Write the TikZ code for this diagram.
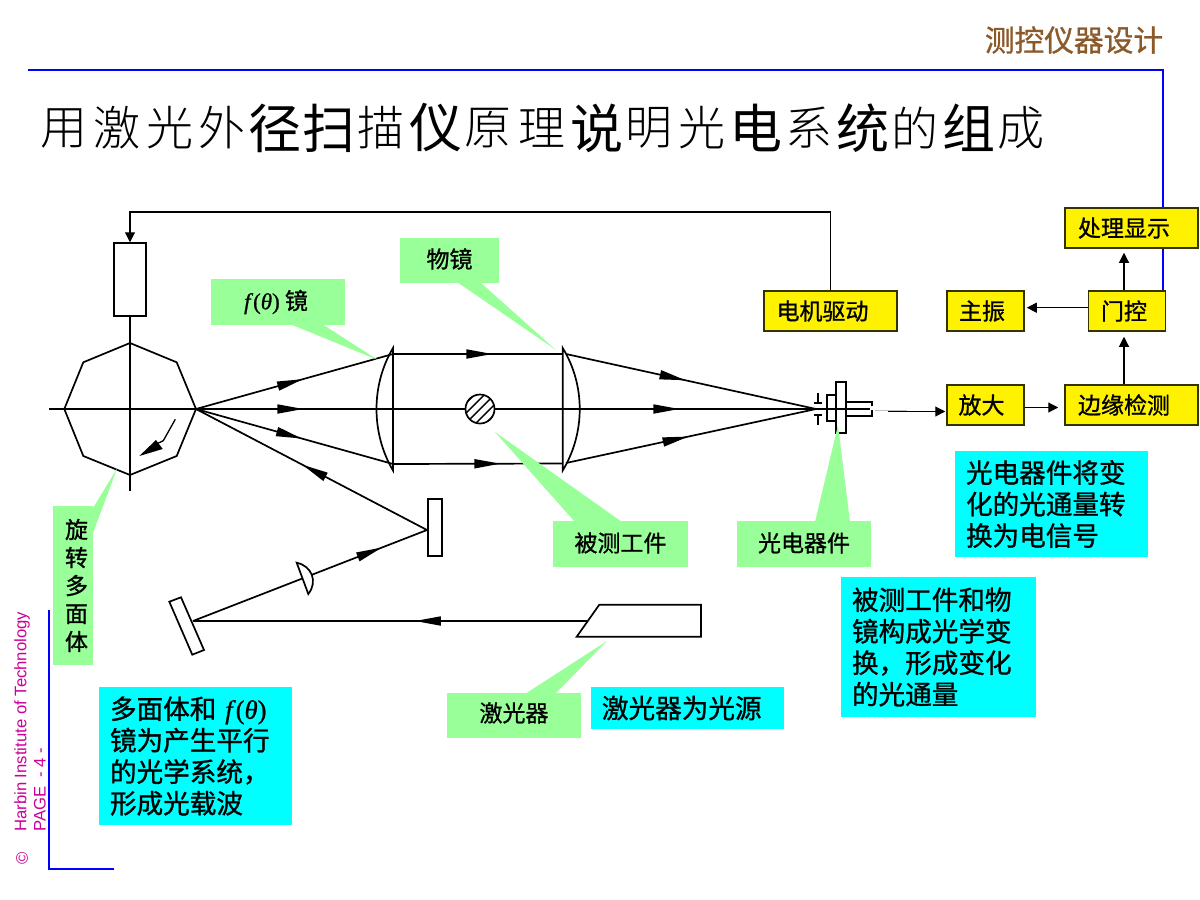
\documentclass[tikz,border=0pt]{standalone}
\usepackage{fontspec}
\setmainfont{Liberation Serif}
\newfontfamily\cjk{Noto Sans CJK SC}
\newfontfamily\cjkb[FakeBold=1]{Noto Sans CJK SC}
\newfontfamily\cjklight{Noto Sans CJK SC Light}
\newfontfamily\lsans{Liberation Sans}
\newfontfamily\ltimes[FakeBold=0.8]{Liberation Serif}
\usetikzlibrary{arrows.meta,decorations.markings}
\definecolor{labelgreen}{HTML}{99FF99}
\definecolor{boxedge}{HTML}{333300}
\definecolor{framepink}{HTML}{CC0099}
\definecolor{brownhead}{HTML}{8B5A2B}
\definecolor{notecyan}{HTML}{00FFFF}
\newcommand{\ftheta}{{\ltimes\itshape f\/\upshape(\itshape θ\/\upshape)}}
\newcommand{\lft}[2]{\raisebox{-3pt}{#2\hspace{#1}}}
\tikzset{
  x=1pt,y=-1pt,
  ln/.style={line width=1.7pt,black,line join=miter},
  conn/.style={line width=1.1pt,black,-{Triangle[length=10pt,width=10pt]}},
  midtip/.style={postaction={decorate,decoration={markings,mark=at position #1 with {\arrow{Triangle[length=26pt,width=9pt]}}}}},
  yellowbox/.style={draw=boxedge,line width=1.5pt,fill=yellow,inner sep=0pt,font=\cjkb\fontsize{23}{28}\selectfont},
  greenbox/.style={fill=labelgreen,inner sep=0pt,font=\cjkb\fontsize{23}{28}\selectfont},
  cyanbox/.style={fill=notecyan,inner xsep=11pt,inner ysep=0pt,align=left,font=\cjkb\fontsize{26.6}{31.5}\selectfont},
  greentail/.style={fill=labelgreen,draw=none},
  titlechar/.style={inner sep=0pt,font=\cjklight\fontsize{47}{50}\selectfont},
  titlebig/.style={inner sep=0pt,font=\cjk\fontsize{53}{55}\selectfont},
  framenote/.style={rotate=90,anchor=west,inner sep=0pt,text=framepink,font=\lsans\fontsize{16.7}{18}\selectfont},
  blueframe/.style={line width=2.3pt,blue},
}
\begin{document}
\begin{tikzpicture}
\useasboundingbox (0,0) rectangle (1200,900);
% frame
\coordinate (ftl) at (28,70); \coordinate (ftr) at (1163,70); \coordinate (fbr) at (1163,291);
\coordinate (fl1) at (49,610); \coordinate (fl2) at (49,869); \coordinate (fl3) at (114,869);
\draw[blueframe] (ftl) -- (ftr) -- (fbr);
\draw[blueframe] (fl1) -- (fl2) -- (fl3);
\node[inner sep=0pt,text=brownhead,font=\cjkb\fontsize{29.7}{32}\selectfont] (head) at (1074,40) {测控仪器设计};
% footer
\node[framenote] (foot1) at (22,832) {Harbin Institute of Technology};
\node[framenote] (foot2) at (40,832) {PAGE\ \ - 4 -};
\node[framenote] (foot3) at (22,865) {©};
% title
\node[titlechar] (t1) at (64,128) {用};
\node[titlechar] (t2) at (117,128) {激};
\node[titlechar] (t3) at (170,128) {光};
\node[titlechar] (t4) at (222,128) {外};
\node[titlebig] (t5) at (275,128) {径};
\node[titlebig] (t6) at (329,128) {扫};
\node[titlechar] (t7) at (381,128) {描};
\node[titlebig] (t8) at (436,128) {仪};
\node[titlechar] (t9) at (488,128) {原};
\node[titlechar] (t10) at (542,128) {理};
\node[titlebig] (t11) at (597,128) {说};
\node[titlechar] (t12) at (649,128) {明};
\node[titlechar] (t13) at (702,128) {光};
\node[titlebig] (t14) at (756,128) {电};
\node[titlechar] (t15) at (809,128) {系};
\node[titlebig] (t16) at (863,128) {统};
\node[titlechar] (t17) at (915,128) {的};
\node[titlebig] (t18) at (969,128) {组};
\node[titlechar] (t19) at (1021,128) {成};
% scanning polygon
\coordinate (fan) at (196,409);
\draw[ln] (130,343) -- (176.7,362.3) -- (fan) -- (176.7,456) -- (130,475) -- (83.3,456) -- (64.3,409) -- (83.3,362.3) -- cycle;
\node[draw,line width=1.5pt,fill=white,minimum width=32pt,minimum height=73pt,inner sep=0pt] (motor) at (130,279.5) {};
\coordinate (axisbottom) at (130,491);
\coordinate (axisleft) at (49,409);
\draw[ln] (motor.south) -- (axisbottom);
% rotation arrow
\coordinate (rot1) at (175.3,419.3); \coordinate (rot2) at (163.3,440.7); \coordinate (rot3) at (139.3,456);
\draw[line width=1.3pt] (rot1) -- (rot2) -- (150,447);
\fill (rot3) -- (156,440) -- (162.7,449) -- cycle;
% part
\node[circle,draw,line width=1.7pt,minimum size=29pt,inner sep=0pt] (part) at (480,409) {};
\begin{scope}
\clip (480,409) circle (14.5);
\foreach \d in {-30,-20,-10,0,10,20,30}
  \draw[line width=1.4pt] (480+\d-20,429) -- (480+\d+20,389);
\end{scope}
% coordinates of optics
\coordinate (ltop) at (393,354); \coordinate (lbot) at (393,464);
\coordinate (rtop) at (566,354); \coordinate (rbot) at (566,463);
\coordinate (focus) at (816,409);
\coordinate (mir) at (427,530);
\coordinate (tm) at (193,621);
\coordinate (las) at (587,621);
\draw[ln,midtip=0.612] (axisleft) -- (part.west);
\draw[ln,midtip=0.574] (part.east) -- (focus);
\draw[ln,midtip=0.543] (fan) -- (ltop);
\draw[ln,midtip=0.538] (fan) -- (lbot);
\draw[ln,midtip=0.586] (ltop) -- (562.7,354);
\draw[ln,midtip=0.633] (lbot) -- (562.7,463.5);
\draw[ln,midtip=0.478] (rtop) -- (focus);
\draw[ln,midtip=0.49] (rbot) -- (focus);
\draw[ln,midtip=0.539] (mir) -- (fan);
\draw[ln,midtip=0.808] (tm) -- (mir);
\draw[ln,midtip=0.437] (las) -- (tm);
% lenses
\draw[ln] (393,348) .. controls (371,385) and (371,433) .. (393,470.5) -- cycle;
\draw[ln] (562.7,348) .. controls (585.4,385) and (585.4,433) .. (562.7,470.5) -- cycle;
\draw[ln,fill=white] (296.7,562.7) .. controls (312,566) and (318,581.7) .. (308.3,594) -- cycle;
% mirrors
\node[draw,line width=1.5pt,fill=white,minimum width=14pt,minimum height=57pt,inner sep=0pt] (mirror) at (435,527.5) {};
\draw[ln,fill=white] (169.3,601.7) -- (181,597.3) -- (204,650) -- (192.3,654.7) -- cycle;
% laser
\draw[ln,fill=white] (599.3,604.7) -- (701,604.7) -- (701,636.7) -- (576.7,636.7) -- cycle;
% detector
\draw[ln] (818,393) -- (818,403) (814,403) -- (822,403);
\draw[ln] (818,425) -- (818,415) (814,415) -- (822,415);
\draw[ln] (827.3,395) rectangle (836,420.7);
\draw[ln] (836,382.3) rectangle (845.7,432.7);
\draw[ln] (845.7,401.7) -- (872.3,401.7) -- (872.3,406) (872.3,410) -- (872.3,416) -- (845.7,416);
\draw[ln] (816,409) -- (870,409);
\draw[line width=1pt,black!25] (875,410.7) -- (907,410.7);
% electronic boxes
\node[yellowbox,minimum width=133pt,minimum height=40pt] (drive) at (830.5,311) {\lft{16pt}{电机驱动}};
\node[yellowbox,minimum width=77pt,minimum height=40pt] (osc) at (985.5,311) {\lft{7pt}{主振}};
\node[yellowbox,minimum width=77pt,minimum height=40pt] (gate) at (1127,311) {\lft{6pt}{门控}};
\node[yellowbox,minimum width=133pt,minimum height=40pt] (disp) at (1131.5,228) {\lft{15pt}{处理显示}};
\node[yellowbox,minimum width=77pt,minimum height=40pt] (amp) at (985.5,405) {\lft{8pt}{放大}};
\node[yellowbox,minimum width=133pt,minimum height=40pt] (edge) at (1131.5,405) {\lft{15pt}{边缘检测}};
\coordinate (upx) at (1124,0);
\coordinate (fbcorner) at (130,212);
\coordinate (outstart) at (888,411.5);
\draw[conn] (drive.north) |- (fbcorner) -- (motor.north);
\draw[conn,shorten >=1pt] (outstart) -- (amp.west |- outstart);
\draw[conn,shorten >=6pt] (amp.east |- 0,407.5) -- (edge.west |- 0,407.5);
\draw[conn,shorten >=5pt] (upx |- edge.north) -- (upx |- gate.south);
\draw[conn,shorten >=4pt] (upx |- gate.north) -- (upx |- disp.south);
\draw[conn,shorten >=2pt] (gate.west |- 0,307.7) -- (osc.east |- 0,307.7);
% green labels
\fill[greentail] (290,324) -- (322,324) -- (378,360) -- cycle;
\fill[greentail] (457,282) -- (480,282) -- (556,350) -- cycle;
\fill[greentail] (93,508) -- (93,533) -- (117.3,468) -- cycle;
\fill[greentail] (575,522) -- (622,522) -- (495,432) -- cycle;
\fill[greentail] (815,522) -- (850,522) -- (838,425) -- cycle;
\fill[greentail] (525,694) -- (555,694) -- (607,641) -- cycle;
\node[greenbox,minimum width=134pt,minimum height=46pt] (lblf) at (278,302) {\raisebox{1pt}{\hspace{-4pt}\ftheta\ 镜}};
\node[greenbox,minimum width=99pt,minimum height=45pt] (lblobj) at (449.5,260.5) {\raisebox{5pt}{物镜}};
\node[greenbox,minimum width=40pt,minimum height=159pt,align=center] (lblpoly) at (73,585.5) {\hspace{7pt}旋\\\hspace{7pt}转\\\hspace{7pt}多\\\hspace{7pt}面\\\hspace{7pt}体};
\node[greenbox,minimum width=135pt,minimum height=46pt] (lblpart) at (620.5,544) {\raisebox{4pt}{被测工件}};
\node[greenbox,minimum width=134pt,minimum height=46pt] (lbldet) at (804,544) {\raisebox{4pt}{光电器件}};
\node[greenbox,minimum width=134pt,minimum height=45pt] (lbllas) at (514,715.5) {\raisebox{7pt}{激光器}};
% cyan notes
\node[cyanbox,text width=171pt,minimum height=106pt] (n1) at (1051.5,504) {光电器件将变\\化的光通量转\\换为电信号};
\node[cyanbox,text width=173pt,minimum height=140pt] (n2) at (938.5,647) {被测工件和物\\镜构成光学变\\换，形成变化\\的光通量};
\node[cyanbox,text width=171pt,minimum height=42pt] (n3) at (687.5,708) {激光器为光源};
\node[cyanbox,text width=171pt,minimum height=138pt] (n4) at (195.5,756) {多面体和 \ftheta\\镜为产生平行\\的光学系统，\\形成光载波};
\end{tikzpicture}
\end{document}
